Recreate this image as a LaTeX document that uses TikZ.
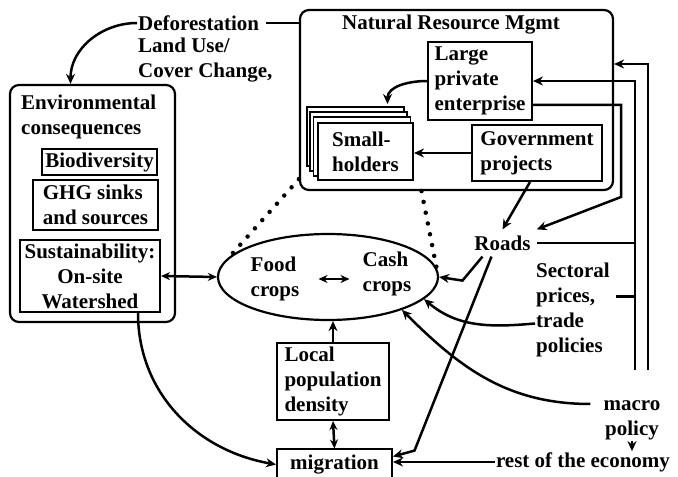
\documentclass[tikz,border=0pt]{standalone}
\usepackage{fontspec}
\setmainfont{Liberation Serif}
\usetikzlibrary{arrows.meta,backgrounds,shapes.geometric}

\begin{document}
\begin{tikzpicture}[x=1pt, y=1pt,
  font=\fontsize{21}{25}\selectfont\bfseries,
  txt/.style={inner sep=1pt, align=left},
  box/.style={draw, line width=2pt, inner sep=2pt, align=left},
  frame/.style={draw, line width=2.2pt, rounded corners=9pt},
  layer/.style={draw, line width=1.6pt, fill=white},
  link/.style={line width=2.5pt},
  arr/.style={link, -{Stealth[length=10pt, width=9pt]}},
  both/.style={link, {Stealth[length=9pt, width=8pt]}-{Stealth[length=9pt, width=8pt]}},
  dots/.style={line width=4.5pt, line cap=round, dash pattern=on 0pt off 11pt}]
\useasboundingbox (0,0) rectangle (678,477);
\node[txt, anchor=west] (defo) at (137,454) {Deforestation};
\node[txt, anchor=west] (luc) at (137,416.5) {Land Use/\\Cover Change,};
\node[frame, minimum width=165pt, minimum height=237pt] (env) at (92.5,273.5) {};
\node[txt, anchor=west] (envt) at (20,360) {Environmental\\consequences};
\node[box, minimum width=115pt, minimum height=26pt] (bio) at (99.5,315) {Biodiversity};
\node[box, minimum width=125pt, minimum height=50pt] (ghg) at (95.5,272) {GHG sinks\\and sources};
\node[box, inner sep=1pt, align=center, minimum width=140pt, minimum height=72pt] (sust) at (90,201) {Sustainability:\\On-site\\Watershed};
\node[frame, minimum width=313pt, minimum height=180pt] (nrm) at (456.5,377) {};
\node[txt] (nrmt) at (451,452) {Natural Resource Mgmt};
\node[box, minimum width=104pt, minimum height=78pt] (large) at (480,396) {Large\\private\\enterprise};
\node[box, minimum width=130pt, minimum height=56pt] (gov) at (537,324) {Government\\projects};
\node[box, fill=white, minimum width=95pt, minimum height=57pt] (small) at (365.5,325.5) {Small-\\holders};
\begin{scope}[on background layer]
\foreach \s in {3,2,1}
  \draw[layer] ([shift={(-3.4*\s,5*\s)}]small.south west) rectangle ([shift={(-3.4*\s,5*\s)}]small.north east);
\end{scope}
\node[draw, ellipse, line width=2.2pt, minimum width=220pt, minimum height=86pt] (crops) at (328,200) {};
\node[txt] (food) at (275,198) {Food\\crops};
\node[txt] (cash) at (387,203.5) {Cash\\crops};
\node[txt, inner sep=6pt] (roads) at (502.5,234) {Roads};
\node[txt, anchor=west] (sect) at (535,167.5) {Sectoral\\prices,\\trade\\policies};
\node[txt, align=center] (macro) at (632,57) {macro\\policy};
\node[txt] (rest) at (583,15) {rest of the economy};
\node[box, minimum width=112pt, minimum height=77pt] (local) at (333,95.5) {Local\\population\\density};
\node[box, minimum width=115pt, minimum height=30pt] (mig) at (334.5,12.5) {migration};
\coordinate (bus1) at (635,107);
\coordinate (bus2) at (648,107);
\draw[arr] (defo.west) to[out=180, in=90] ([xshift=-22pt]env.north);
\draw[link, shorten <=6pt] (defo.east) -- (defo.east -| nrm.west);
\draw[arr] (large.west) to[out=180, in=90] ([shift={(22pt,18pt)}]small.north);
\draw[arr] (gov.west) -- (gov.west -| small.east);
\draw[arr] ([xshift=-7pt]gov.south) -- (roads.north);
\draw[arr] ([yshift=-24pt]large.east) -- ++(88,0) -- ++(0,-92) -- (roads.north east);
\draw[arr] (bus1) |- (large.east);
\draw[arr] (bus2) |- ([yshift=36pt]nrm.east);
\draw[link] (roads.east) -- (roads.east -| bus1);
\draw[link, shorten <=5pt] ([yshift=13pt]sect.east) -- ([yshift=13pt]sect.east -| bus1);
\draw[arr] ([yshift=-14pt]sect.west) to[out=185, in=-40] (crops.-13);
\draw[arr] ([shift={(-12pt,16pt)}]macro.west) to[out=180, in=-45] (crops.-24);
\draw[arr] (macro.south) -- (macro.south |- rest.north);
\draw[arr] (rest.west) -- (rest.west -| mig.east);
\draw[arr] (local.north) -- (local.north |- crops.south);
\draw[both] (local.south) -- (mig.north);
\draw[arr] ([xshift=48pt]sust.south) to[out=-90, in=170] (mig.west);
\draw[both] (sust.east) -- (crops.west);
\draw[both, shorten <=18pt, shorten >=12pt] (food.east) -- (food.east -| cash.west);
\draw[arr] ([xshift=-20pt]roads.south) -- ++(-20,-24) -- (crops.east);
\draw[arr] ([xshift=-11pt]roads.south) -- ++(-77,-194) -- ([yshift=8pt]mig.east);
\draw[dots] ([yshift=12pt]nrm.south west) -- (crops.168);
\draw[dots] ([xshift=-35pt]nrm.south) -- (crops.5);
\end{tikzpicture}
\end{document}
